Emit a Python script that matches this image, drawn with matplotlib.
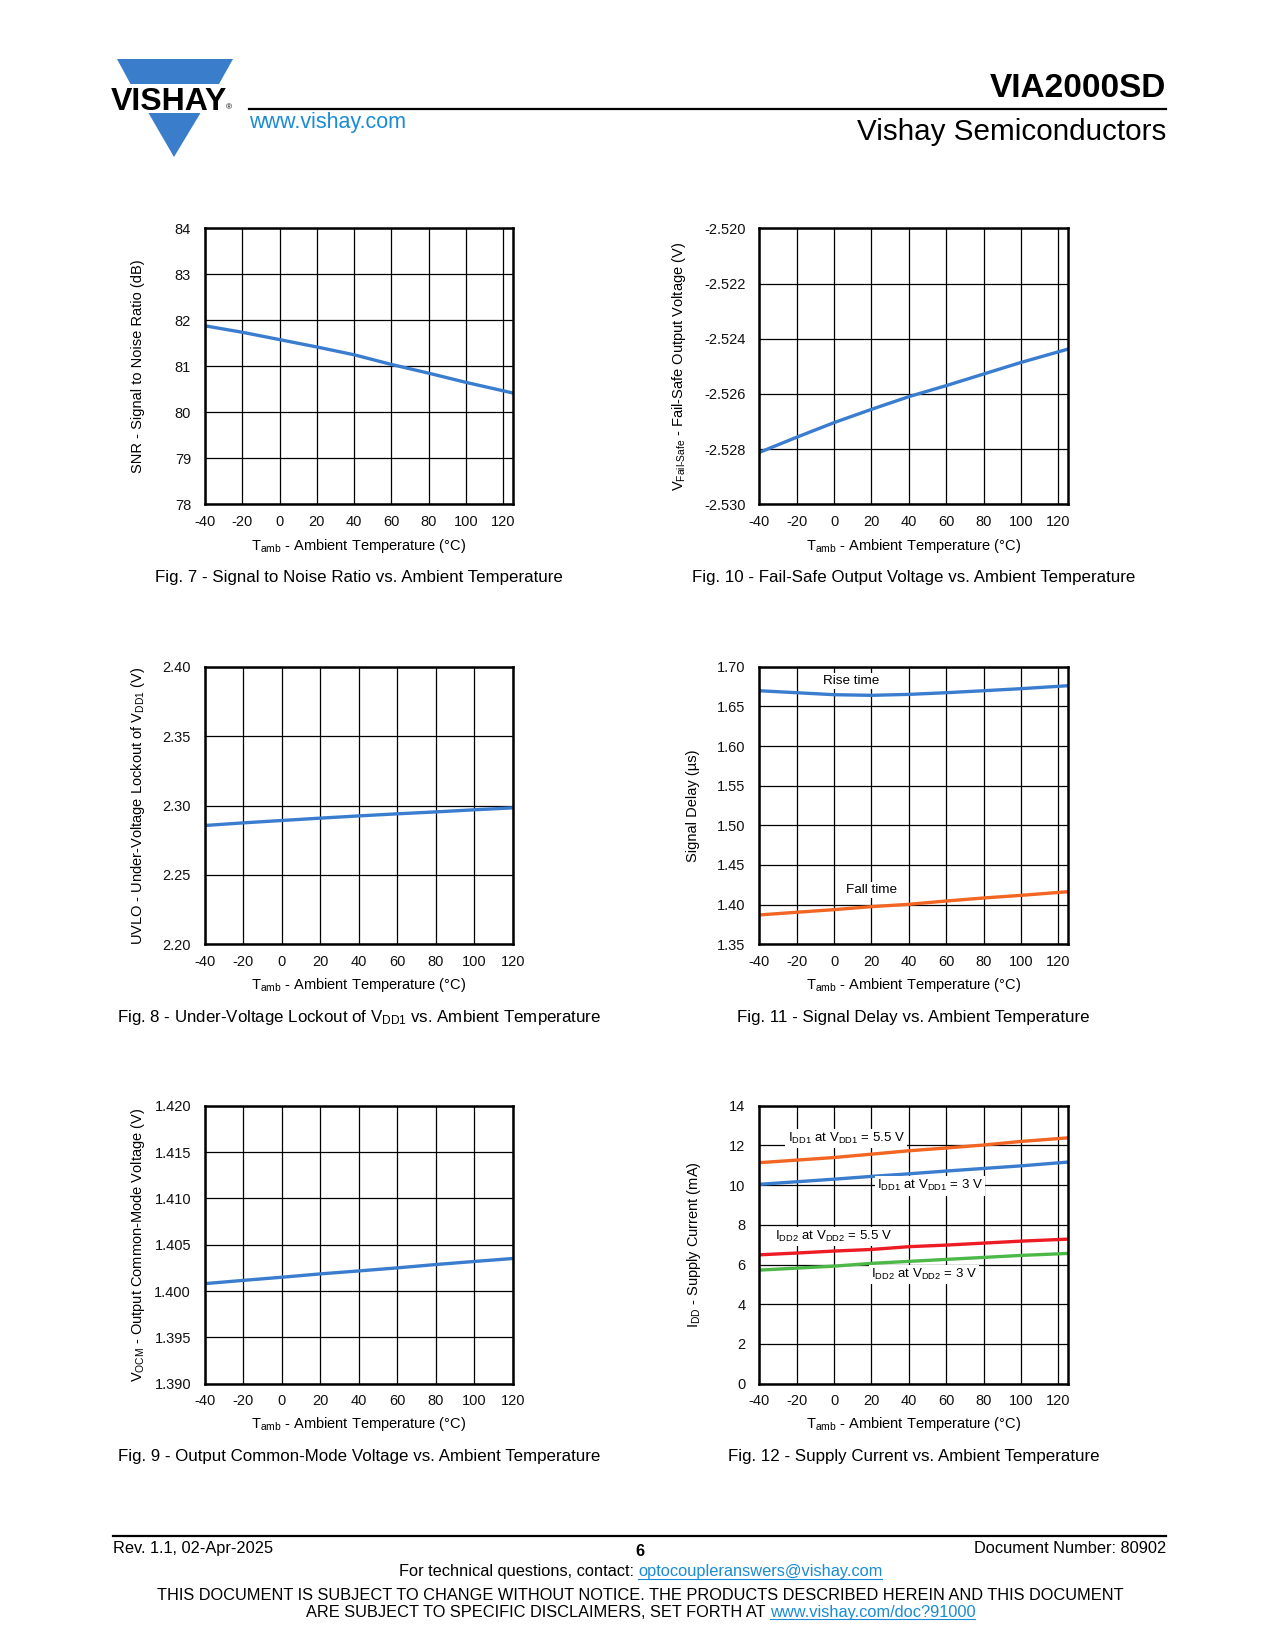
import matplotlib
matplotlib.use("Agg")
import matplotlib.pyplot as plt
from matplotlib.patches import Polygon
import numpy as np

plt.rcParams['font.family'] = ['Liberation Sans', 'DejaVu Sans']
plt.rcParams['mathtext.fontset'] = 'custom'
plt.rcParams['mathtext.rm'] = 'Liberation Sans'
plt.rcParams['axes.unicode_minus'] = False

# ---------------- data ----------------
temp = [-40, -20, 0, 20, 40, 60, 80, 100, 125]
temp120 = [-40, -20, 0, 20, 40, 60, 80, 100, 120]

snr = [81.88, 81.74, 81.58, 81.42, 81.25, 81.04, 80.85, 80.65, 80.42]
v_failsafe = [-2.52812, -2.52757, -2.52704, -2.52656, -2.5261, -2.5257, -2.52528, -2.52486, -2.52438]
uvlo = [2.2856, 2.2875, 2.2892, 2.2909, 2.2925, 2.2940, 2.2954, 2.2969, 2.2983]
rise_time = [1.6697, 1.6672, 1.6647, 1.6639, 1.6651, 1.6672, 1.6697, 1.6723, 1.6760]
fall_time = [1.3870, 1.3904, 1.3937, 1.3975, 1.4004, 1.4046, 1.4084, 1.4117, 1.4163]
vocm = [1.40080, 1.40115, 1.40149, 1.40185, 1.40217, 1.40250, 1.40286, 1.40319, 1.40351]
idd1_55 = [11.13, 11.26, 11.39, 11.56, 11.73, 11.87, 12.02, 12.20, 12.38]
idd1_3 = [10.04, 10.17, 10.30, 10.44, 10.57, 10.71, 10.84, 10.97, 11.16]
idd2_55 = [6.49, 6.58, 6.68, 6.76, 6.90, 6.98, 7.08, 7.18, 7.28]
idd2_3 = [5.72, 5.82, 5.92, 6.06, 6.16, 6.26, 6.36, 6.46, 6.56]

x_ticks = [-40, -20, 0, 20, 40, 60, 80, 100, 120]

BLUE = '#3a7dcf'
ORANGE = '#f26522'
RED = '#ed1c24'
GREEN = '#4cb848'
LINK = '#1a8bd6'

W, H = 1275, 1650
fig = plt.figure(figsize=(W / 100, H / 100), dpi=100)


def make_ax(L, R, T, B, xmax, ylim, yticks, fmt):
    ax = fig.add_axes([L / W, 1 - B / H, (R - L) / W, (B - T) / H])
    ax.set_xlim(-40, xmax)
    ax.set_ylim(*ylim)
    ax.set_xticks(x_ticks)
    ax.set_yticks(yticks)
    ax.set_yticklabels([fmt.format(v) for v in yticks])
    ax.grid(True, color='black', linewidth=0.9)
    ax.set_axisbelow(True)
    ax.tick_params(length=0, labelsize=10.5, colors='#111111')
    ax.tick_params(axis='x', pad=7.5)
    ax.tick_params(axis='y', pad=10)
    for s in ax.spines.values():
        s.set_linewidth(1.8)
        s.set_color('black')
    return ax


LW = 2.4

# Fig 7
ax7 = make_ax(205, 512.7, 228.3, 504.3, 125, (78, 84), list(range(78, 85)), '{:d}')
ax7.plot(temp, snr, color=BLUE, lw=LW)

# Fig 10
ax10 = make_ax(759.3, 1067.7, 228.3, 504.3, 125, (-2.530, -2.520),
               [-2.530, -2.528, -2.526, -2.524, -2.522, -2.520], '{:.3f}')
ax10.plot(temp, v_failsafe, color=BLUE, lw=LW)

# Fig 8
ax8 = make_ax(205, 512.7, 666.7, 944.3, 120, (2.20, 2.40),
              [2.20, 2.25, 2.30, 2.35, 2.40], '{:.2f}')
ax8.plot(temp120, uvlo, color=BLUE, lw=LW)

# Fig 11
ax11 = make_ax(759.3, 1067.7, 666.7, 944.3, 125, (1.35, 1.70),
               [1.35, 1.40, 1.45, 1.50, 1.55, 1.60, 1.65, 1.70], '{:.2f}')
ax11.plot(temp, rise_time, color=BLUE, lw=LW)
ax11.plot(temp, fall_time, color=ORANGE, lw=LW)
box = dict(facecolor='white', edgecolor='none', pad=1.5)
ax11.text(9, 1.6824, 'Rise time', fontsize=9.7, ha='center', va='center', bbox=box, zorder=3)
ax11.text(20, 1.4184, 'Fall time', fontsize=9.7, ha='center', va='center', bbox=box, zorder=3)

# Fig 9
ax9 = make_ax(205, 512.7, 1105.7, 1383.7, 120, (1.390, 1.420),
              [1.390, 1.395, 1.400, 1.405, 1.410, 1.415, 1.420], '{:.3f}')
ax9.plot(temp120, vocm, color=BLUE, lw=LW)

# Fig 12
ax12 = make_ax(759.3, 1067.7, 1105.7, 1383.7, 125, (0, 14), list(range(0, 15, 2)), '{:d}')
ax12.plot(temp, idd1_55, color=ORANGE, lw=LW)
ax12.plot(temp, idd1_3, color=BLUE, lw=LW)
ax12.plot(temp, idd2_55, color=RED, lw=LW)
ax12.plot(temp, idd2_3, color=GREEN, lw=LW)
ax12.text(6.4, 12.36, r'I$\mathregular{_{DD1}}$ at V$\mathregular{_{DD1}}$ = 5.5 V', fontsize=9.5,
          ha='center', va='center', bbox=box, zorder=3)
ax12.text(51.3, 9.96, r'I$\mathregular{_{DD1}}$ at V$\mathregular{_{DD1}}$ = 3 V', fontsize=9.5,
          ha='center', va='center', bbox=box, zorder=3)
ax12.text(-0.4, 7.41, r'I$\mathregular{_{DD2}}$ at V$\mathregular{_{DD2}}$ = 5.5 V', fontsize=9.5,
          ha='center', va='center', bbox=box, zorder=3)
ax12.text(48, 5.51, r'I$\mathregular{_{DD2}}$ at V$\mathregular{_{DD2}}$ = 3 V', fontsize=9.5,
          ha='center', va='center', bbox=box, zorder=3)

# ---------------- page overlay ----------------
page = fig.add_axes([0, 0, 1, 1])
page.set_xlim(0, W)
page.set_ylim(H, 0)
page.axis('off')
page.patch.set_visible(False)

# header logo
page.add_patch(Polygon([[117, 59], [233, 59], [219, 84], [130.5, 84]], closed=True,
                       facecolor='#3a7dcb', edgecolor='none'))
page.add_patch(Polygon([[148.5, 113], [200.5, 113], [174, 157]], closed=True,
                       facecolor='#3a7dcb', edgecolor='none'))
page.text(169, 109.5, 'VISHAY', fontsize=23, fontweight='heavy', ha='center', va='baseline')
page.text(226, 109, '®', fontsize=6, ha='left', va='baseline')
page.text(249, 128.3, 'www.vishay.com', fontsize=15.5, color=LINK, ha='left', va='baseline')
page.text(1166, 96.7, 'VIA2000SD', fontsize=24, fontweight='bold', ha='right', va='baseline')
page.text(1166, 140, 'Vishay Semiconductors', fontsize=21.3, ha='right', va='baseline')
page.plot([249, 1166], [109, 109], color='black', lw=1.6)

# axis labels & captions
xlab = r'T$\mathregular{_{amb}}$ - Ambient Temperature (°C)'
left_c, right_c = 359, 913.5
for yb in (550, 989.3, 1428.3):
    page.text(left_c, yb, xlab, fontsize=10.5, ha='center', va='baseline')
    page.text(right_c, yb, xlab, fontsize=10.5, ha='center', va='baseline')

cap_font = 12.2
page.text(left_c, 582.3, 'Fig. 7 - Signal to Noise Ratio vs. Ambient Temperature', fontsize=cap_font,
          ha='center', va='baseline')
page.text(right_c, 582.3, 'Fig. 10 - Fail-Safe Output Voltage vs. Ambient Temperature', fontsize=cap_font,
          ha='center', va='baseline')
page.text(left_c, 1021.7, r'Fig. 8 - Under-Voltage Lockout of V$\mathregular{_{DD1}}$ vs. Ambient Temperature',
          fontsize=cap_font, ha='center', va='baseline')
page.text(right_c, 1021.7, 'Fig. 11 - Signal Delay vs. Ambient Temperature', fontsize=cap_font,
          ha='center', va='baseline')
page.text(left_c, 1460.7, 'Fig. 9 - Output Common-Mode Voltage vs. Ambient Temperature', fontsize=cap_font,
          ha='center', va='baseline')
page.text(right_c, 1460.7, 'Fig. 12 - Supply Current vs. Ambient Temperature', fontsize=cap_font,
          ha='center', va='baseline')

ylabels = [
    (142, 366.5, 'SNR - Signal to Noise Ratio (dB)'),
    (683, 366.5, 'V$\\mathregular{_{Fail\u2010Safe}}$ - Fail-Safe Output Voltage (V)'),
    (142.3, 805.5, 'UVLO - Under-Voltage Lockout of V$\\mathregular{_{DD1}}$ (V)'),
    (697, 805.5, 'Signal Delay (µs)'),
    (142.3, 1244.7, 'V$\\mathregular{_{OCM}}$ - Output Common-Mode Voltage (V)'),
    (698, 1244.7, 'I$\\mathregular{_{DD}}$ - Supply Current (mA)'),
]
for x, y, s in ylabels:
    page.text(x, y, s, fontsize=10.5, rotation=90, rotation_mode='anchor', ha='center', va='baseline')

# footer
FF = 11.8
page.plot([113, 1166], [1535.7, 1535.7], color='black', lw=1.6)
page.text(113, 1553, 'Rev. 1.1, 02-Apr-2025', fontsize=FF, ha='left', va='baseline')
page.text(640, 1555.5, '6', fontsize=FF, fontweight='bold', ha='center', va='baseline')
page.text(1166, 1553, 'Document Number: 80902', fontsize=FF, ha='right', va='baseline')

renderer = fig.canvas.get_renderer()


def two_part(y, s1, s2, fs, center=640.5):
    t1 = page.text(0, y, s1, fontsize=fs, ha='left', va='baseline')
    t2 = page.text(0, y, s2, fontsize=fs, ha='left', va='baseline', color=LINK)
    w1 = t1.get_window_extent(renderer).width
    w2 = t2.get_window_extent(renderer).width
    x0 = center - (w1 + w2) / 2
    t1.set_x(x0)
    t2.set_x(x0 + w1)
    page.plot([x0 + w1, x0 + w1 + w2], [y + 2.5, y + 2.5], color=LINK, lw=0.8)


two_part(1576, 'For technical questions, contact: ', 'optocoupleranswers@vishay.com', FF)
page.text(640.5, 1600, 'THIS DOCUMENT IS SUBJECT TO CHANGE WITHOUT NOTICE. THE PRODUCTS DESCRIBED HEREIN AND THIS DOCUMENT',
          fontsize=FF, ha='center', va='baseline')
two_part(1616.7, 'ARE SUBJECT TO SPECIFIC DISCLAIMERS, SET FORTH AT ', 'www.vishay.com/doc?91000', FF)

fig.savefig('out.png', dpi=100)
